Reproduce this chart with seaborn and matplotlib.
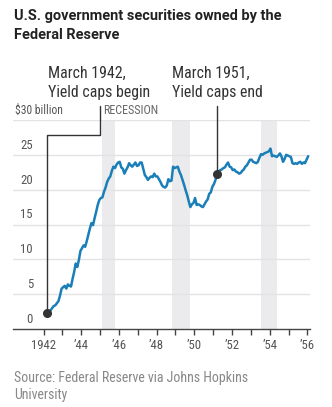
import pandas as pd
import numpy as np
import matplotlib
matplotlib.use("Agg")
import matplotlib.pyplot as plt
from matplotlib import font_manager
import seaborn as sns

# Monthly holdings, $ billion, March 1942 through January 1956
start_year, start_month = 1942, 3
holdings = [
    # 1942 (Mar-Dec)
    2.3, 2.4, 2.7, 3.0, 3.3, 3.4, 3.7, 4.0, 4.8, 5.8,
    # 1943
    6.0, 6.2, 5.8, 6.4, 6.2, 6.1, 7.2, 8.2, 9.4, 8.9, 9.9, 11.2,
    # 1944
    11.6, 12.0, 11.8, 12.6, 13.5, 14.4, 15.2, 14.9, 15.9, 16.8, 17.8, 18.5,
    # 1945
    18.8, 18.9, 19.7, 20.3, 21.1, 21.6, 21.9, 22.7, 23.3, 23.1, 23.6, 23.9,
    # 1946
    24.0, 23.2, 23.0, 22.3, 22.8, 23.2, 23.8, 23.5, 23.3, 23.6, 23.9, 23.4,
    # 1947
    23.5, 23.9, 23.9, 23.0, 22.1, 21.8, 21.4, 21.7, 21.9, 21.8, 22.3, 21.9,
    # 1948
    21.9, 21.5, 21.1, 20.6, 20.4, 20.3, 20.6, 21.5, 21.2, 21.3, 23.3, 23.1,
    # 1949
    23.2, 23.3, 22.6, 22.1, 21.4, 20.7, 19.9, 19.2, 18.3, 17.5, 17.9, 18.1,
    # 1950
    18.8, 17.8, 17.9, 17.8, 17.6, 17.5, 17.9, 18.3, 18.6, 19.4, 19.6, 20.4,
    # 1951
    20.8, 21.4, 22.2, 22.6, 22.8, 22.9, 23.1, 23.2, 23.6, 23.9, 23.3, 23.2,
    # 1952
    22.8, 22.9, 22.6, 22.5, 22.3, 22.4, 22.7, 22.9, 23.3, 23.5, 23.9, 24.3,
    # 1953
    24.3, 24.0, 23.9, 23.8, 24.0, 24.6, 25.1, 25.0, 25.2, 25.3, 25.4, 25.5,
    # 1954
    25.9, 24.8, 24.9, 24.8, 24.7, 24.9, 25.2, 24.8, 24.0, 24.4, 25.0, 24.9,
    # 1955
    24.8, 24.7, 23.8, 23.7, 23.8, 23.7, 23.9, 24.0, 23.7, 23.9, 23.8, 24.3,
    # 1956
    24.8,
]

# Recession periods (start, end) as fractional years
recessions = [(1945.08, 1945.78), (1948.83, 1949.77), (1953.54, 1954.37)]

# Annotated events: (year, month, first line, second line)
events = [
    (1942, 3, "March 1942,", "Yield caps begin"),
    (1951, 3, "March 1951,", "Yield caps end"),
]

y_ticks = [0, 5, 10, 15, 20, 25, 30]
y_tick_labels = ["0", "5", "10", "15", "20", "25", "$30 billion"]
x_ticks = list(range(1942, 1957))
x_tick_labels = ["1942" if y == 1942 else ("\u2019%02d" % (y % 100) if y % 2 == 0 else "")
                 for y in x_ticks]

title_lines = ["U.S. government securities owned by the", "Federal Reserve"]
source_lines = ["Source: Federal Reserve via Johns Hopkins", "University"]

# ---------------------------------------------------------------------------
installed = {f.name for f in font_manager.fontManager.ttflist}


def pick(cands):
    for c in cands:
        if c in installed:
            return c
    return "DejaVu Sans"


BODY = pick(["Roboto Condensed", "Liberation Sans Narrow", "Roboto", "Lato",
             "Liberation Sans"])
HEAD = pick(["Roboto", "Lato", "Liberation Sans"])

months = np.arange(len(holdings))
frac_year = start_year + (start_month - 1 + months + 0.5) / 12.0
df = pd.DataFrame({"year": frac_year, "holdings": holdings})

sns.set_theme(style="white")
plt.rcParams["font.family"] = [BODY, "DejaVu Sans"]

W, H = 332, 407
fig = plt.figure(figsize=(W / 100, H / 100), dpi=100)
renderer = fig.canvas.get_renderer()


def fit(text, target_px, family, weight="normal", cap=None):
    """Font size (pt) at which `text` spans about target_px pixels."""
    t = fig.text(0, 0, text, fontsize=10, family=family, fontweight=weight)
    w = t.get_window_extent(renderer).width
    t.remove()
    size = 10 * target_px / w
    return min(size, cap) if cap else size


ax = fig.add_axes([13 / W, 1 - 329 / H, (310 - 13) / W, (329 - 120) / H])
ax.set_xlim(1940.38, 1956.14)
ax.set_ylim(0, 30)

for a, b in recessions:
    ax.axvspan(a, b, color="#ebebed", lw=0, zorder=0)

for v in y_ticks[1:]:
    ax.axhline(v, color="#e3e3e3", lw=1.0, zorder=1)

sns.lineplot(data=df, x="year", y="holdings", ax=ax, color="#1a7fb8",
             lw=1.8, zorder=3, legend=False)

for sp in ["top", "right", "left"]:
    ax.spines[sp].set_visible(False)
ax.spines["bottom"].set_color("#444444")
ax.spines["bottom"].set_linewidth(1.0)
ax.spines["bottom"].set_zorder(4)

tick_fs = fit("1942", 25, BODY, cap=10.5)
ax.set_xticks(x_ticks)
ax.set_xticklabels(x_tick_labels, fontsize=tick_fs, color="#555555")
ax.tick_params(axis="x", direction="out", length=4, width=1, color="#444444",
               pad=3, bottom=True)
ax.set_yticks([])
ax.set_xlabel("")
ax.set_ylabel("")

# y-axis labels sitting just above their gridlines
for v, lab in zip(y_ticks, y_tick_labels):
    if v == 30:
        ax.text(1940.48, v + 0.45, lab, ha="left", va="bottom",
                fontsize=fit(lab, 48, BODY, cap=9.5), color="#555555")
    else:
        ax.text(1942.0 - 0.56, v + 0.45, lab, ha="right", va="bottom",
                fontsize=tick_fs, color="#555555")

ax.text(1945.17, 30.45, "RECESSION", ha="left", va="bottom",
        fontsize=fit("RECESSION", 56, BODY, cap=9.0), color="#666666")

# Event markers with leader lines
hold = dict(zip(zip(start_year + (start_month - 1 + months) // 12,
                    (start_month - 1 + months) % 12 + 1), holdings))
line_kw = dict(color="#333333", lw=1.0, zorder=5, clip_on=False)
top_v = 32.0
ann_fs = fit("Yield caps begin", 102, BODY, cap=11.5)
for i, (yr, mo, l1, l2) in enumerate(events):
    xv = yr + (mo - 0.5) / 12.0
    yv = hold[(yr, mo)]
    if i == 0:
        elbow_y, elbow_x = 27.8, 1945.0
        ax.plot([xv, xv, elbow_x, elbow_x], [yv, elbow_y, elbow_y, top_v], **line_kw)
        tx = xv + 0.05
    else:
        ax.plot([xv, xv], [yv, top_v], **line_kw)
        tx = 1948.82
    ax.plot([xv], [yv], "o", color="#333333", ms=5.5, zorder=6, clip_on=False)
    ax.text(tx, 32.9, l1 + "\n" + l2, ha="left", va="bottom", fontsize=ann_fs,
            color="#333333", linespacing=1.3)

title_fs = fit(title_lines[0], 268, HEAD, weight="bold", cap=11.0)
fig.text(14 / W, 1 - 9 / H, "\n".join(title_lines), ha="left", va="top",
         fontsize=title_fs, fontweight="bold", color="#222222", linespacing=1.45,
         family=[HEAD, "DejaVu Sans"])
src_fs = fit(source_lines[0], 235, BODY, cap=10.5)
fig.text(14 / W, 1 - 371 / H, "\n".join(source_lines), ha="left", va="top",
         fontsize=src_fs, color="#888888", linespacing=1.3)

fig.savefig("out.png", dpi=100, facecolor="white")
